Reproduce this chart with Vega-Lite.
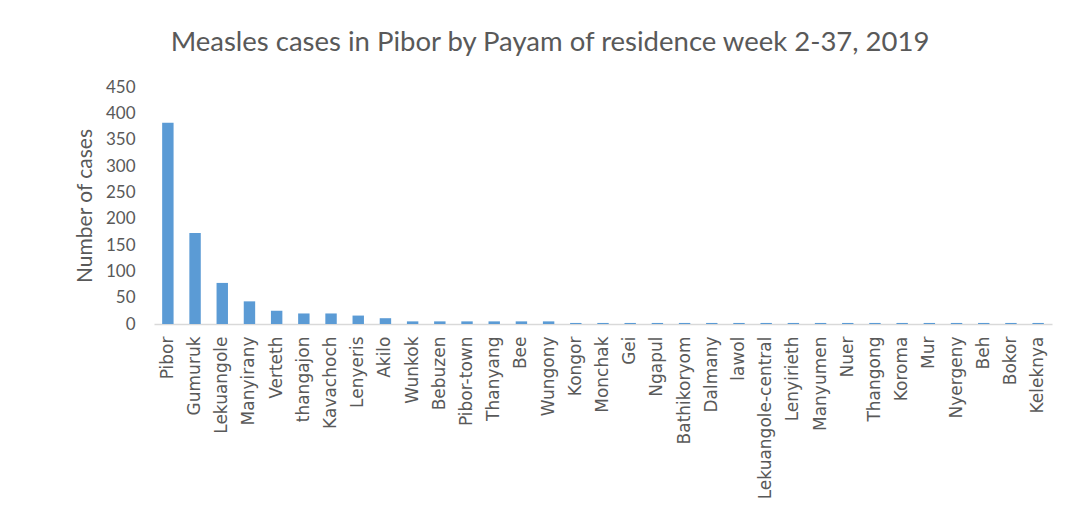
{
  "$schema": "https://vega.github.io/schema/vega-lite/v6.json",
  "autosize": {"type": "none"},
  "width": 898,
  "height": 237,
  "padding": {"left": 154, "top": 87, "right": 24, "bottom": 193},
  "background": "white",
  "config": {"view": {"stroke": null}, "font": "Lato"},
  "title": {
    "text": "Measles cases in Pibor by Payam of residence week 2-37, 2019",
    "font": "Lato",
    "fontSize": 27.5,
    "fontWeight": "normal",
    "color": "#595959",
    "anchor": "middle",
    "dx": -53,
    "offset": 22
  },
  "data": {
    "values": [
      {"payam": "Pibor", "cases": 382},
      {"payam": "Gumuruk", "cases": 173},
      {"payam": "Lekuangole", "cases": 78},
      {"payam": "Manyirany", "cases": 43},
      {"payam": "Verteth", "cases": 25},
      {"payam": "thangajon", "cases": 20},
      {"payam": "Kavachoch", "cases": 20},
      {"payam": "Lenyeris", "cases": 16},
      {"payam": "Akilo", "cases": 11},
      {"payam": "Wunkok", "cases": 5},
      {"payam": "Bebuzen", "cases": 5},
      {"payam": "Pibor-town", "cases": 5},
      {"payam": "Thanyang", "cases": 5},
      {"payam": "Bee", "cases": 5},
      {"payam": "Wungony", "cases": 5},
      {"payam": "Kongor", "cases": 2},
      {"payam": "Monchak", "cases": 2},
      {"payam": "Gei", "cases": 2},
      {"payam": "Ngapul", "cases": 2},
      {"payam": "Bathikoryom", "cases": 2},
      {"payam": "Dalmany", "cases": 2},
      {"payam": "lawol", "cases": 2},
      {"payam": "Lekuangole-central", "cases": 2},
      {"payam": "Lenyirieth", "cases": 2},
      {"payam": "Manyumen", "cases": 2},
      {"payam": "Nuer", "cases": 2},
      {"payam": "Thangong", "cases": 2},
      {"payam": "Koroma", "cases": 2},
      {"payam": "Mur", "cases": 2},
      {"payam": "Nyergeny", "cases": 2},
      {"payam": "Beh", "cases": 2},
      {"payam": "Bokor", "cases": 2},
      {"payam": "Keleknya", "cases": 2}
    ]
  },
  "mark": {"type": "bar", "color": "#5b9bd5"},
  "encoding": {
    "x": {
      "field": "payam",
      "type": "nominal",
      "sort": null,
      "scale": {"paddingInner": 0.58, "paddingOuter": 0.3},
      "axis": {
        "title": null,
        "labelAngle": -90,
        "labelFont": "DejaVu Sans",
        "labelFontSize": 17,
        "labelColor": "#595959",
        "labelPadding": 12,
        "ticks": false,
        "domainColor": "#d9d9d9",
        "domainWidth": 1.5,
        "labelOverlap": false
      }
    },
    "y": {
      "field": "cases",
      "type": "quantitative",
      "scale": {"domain": [0, 450]},
      "axis": {
        "title": "Number of cases",
        "titleFontSize": 21,
        "titleFontWeight": "normal",
        "titleColor": "#595959",
        "titlePadding": 10,
        "values": [0, 50, 100, 150, 200, 250, 300, 350, 400, 450],
        "labelFontSize": 17,
        "labelColor": "#595959",
        "labelPadding": 19,
        "ticks": false,
        "domain": false,
        "grid": false
      }
    }
  }
}
